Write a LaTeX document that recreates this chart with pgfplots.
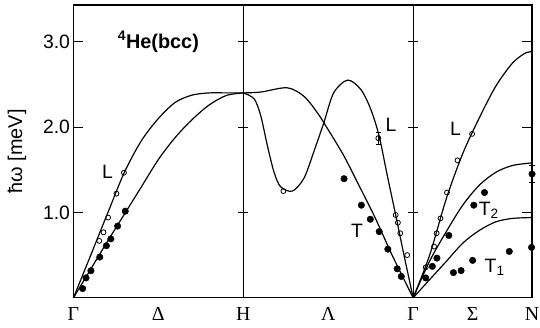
\documentclass[border=0pt]{standalone}
\usepackage{fontspec}
\setmainfont{Liberation Sans}
\newfontfamily\greekfont{Liberation Serif}
\usepackage{pgfplots}
\pgfplotsset{compat=1.18}

\begin{document}
\begin{tikzpicture}
\begin{axis}[
    scale only axis,
    width=462pt, height=295pt,
    xmin=0, xmax=2.7,
    ymin=0, ymax=3.43,
    axis line style={line width=1.2pt},
    ytick={1,2,3},
    yticklabels={1.0,2.0,3.0},
    ytick pos=both, yticklabel pos=left,
    tick align=inside,
    major tick length=10pt,
    tick style={black, line width=1pt},
    xtick={0,0.5,1,1.5,2,2.35,2.7},
    xticklabels={Γ,Δ,H,Λ,Γ,Σ,N},
    x tick style={draw=none},
    xticklabel style={font=\fontsize{20}{22}\selectfont\greekfont, yshift=-6pt},
    yticklabel style={font=\fontsize{19.5}{22}\selectfont},
    /pgf/number format/assume math mode=true,
    ylabel={ħω [meV]},
    ylabel style={font=\fontsize{20}{22}\selectfont, yshift=10pt},
    clip=false,
]

% panel dividers at H and Gamma
\addplot[black, line width=1.2pt] coordinates {(1,0) (1,3.43)};
\addplot[black, line width=1.2pt] coordinates {(2,0) (2,3.43)};
% small ticks on the dividers
\addplot[black, line width=1pt] coordinates {(0.97,1) (1.03,1)};
\addplot[black, line width=1pt] coordinates {(0.97,2) (1.03,2)};
\addplot[black, line width=1pt] coordinates {(0.97,3) (1.03,3)};
\addplot[black, line width=1pt] coordinates {(1.97,1) (2.03,1)};
\addplot[black, line width=1pt] coordinates {(1.97,2) (2.03,2)};
\addplot[black, line width=1pt] coordinates {(1.97,3) (2.03,3)};

% Gamma - H : L branch
\addplot[black, line width=1.2pt, smooth] coordinates {
 (0,0) (0.1,0.49) (0.2,0.985) (0.3,1.47) (0.4,1.84) (0.5,2.1)
 (0.6,2.29) (0.7,2.375) (0.8,2.4) (0.9,2.4) (1.0,2.4)};
% Gamma - H : T branch
\addplot[black, line width=1.2pt, smooth] coordinates {
 (0,0) (0.1,0.33) (0.2,0.66) (0.3,0.98) (0.4,1.3) (0.5,1.62)
 (0.6,1.88) (0.7,2.09) (0.8,2.26) (0.9,2.37) (1.0,2.4)};

% H - Gamma : L branch
\addplot[black, line width=1.2pt, smooth] coordinates {
 (1,2.4) (1.064,2.33) (1.103,2.13) (1.142,1.78) (1.181,1.47) (1.22,1.30)
 (1.289,1.25) (1.357,1.40) (1.415,1.71) (1.474,2.05) (1.532,2.40)
 (1.614,2.55) (1.692,2.44) (1.75,2.21) (1.799,1.90) (1.848,1.43)
 (1.897,0.97) (1.946,0.50) (2,0)};
% H - Gamma : T branch
\addplot[black, line width=1.2pt, smooth] coordinates {
 (1,2.4) (1.103,2.41) (1.258,2.46) (1.357,2.36) (1.435,2.17) (1.49,2.0)
 (1.59,1.67) (1.68,1.32) (1.778,0.93) (1.876,0.5) (2,0)};

% Gamma - N : L, T2, T1
\addplot[black, line width=1.2pt, smooth] coordinates {
 (2,0) (2.097,0.50) (2.195,1.16) (2.292,1.69) (2.39,2.11) (2.487,2.48)
 (2.585,2.75) (2.663,2.87) (2.7,2.88)};
\addplot[black, line width=1.2pt, smooth] coordinates {
 (2,0) (2.097,0.43) (2.195,0.775) (2.292,1.085) (2.39,1.32) (2.487,1.47)
 (2.585,1.55) (2.7,1.58)};
\addplot[black, line width=1.2pt, smooth] coordinates {
 (2,0) (2.097,0.213) (2.195,0.426) (2.292,0.64) (2.39,0.79) (2.487,0.89)
 (2.585,0.93) (2.7,0.94)};

% measured L modes (open circles)
\addplot[only marks, mark=o, mark size=2.5pt, mark options={fill=white, line width=0.8pt}]
 coordinates {
 (0.152,0.667) (0.177,0.767) (0.204,0.94) (0.253,1.22) (0.297,1.465)
 (1.236,1.25) (1.897,0.97) (1.91,0.88) (1.924,0.756) (1.965,0.50)
 (2.074,0.357) (2.123,0.60) (2.138,0.756) (2.161,0.93) (2.199,1.233)
 (2.261,1.61) (2.347,1.92)};
\addplot[only marks, mark=o, mark size=2.5pt, mark options={fill=white, line width=0.8pt},
 error bars/.cd, y dir=both, y explicit, error bar style={line width=0.8pt}]
 coordinates {(1.795,1.87) +- (0,0.07)};

% measured T modes (filled circles)
\addplot[only marks, mark=*, mark size=3.3pt] coordinates {
 (0.054,0.108) (0.074,0.233) (0.103,0.317) (0.155,0.477) (0.194,0.61)
 (0.22,0.69) (0.26,0.84) (0.305,1.015)
 (1.593,1.395) (1.695,1.085) (1.748,0.92) (1.80,0.775) (1.851,0.57)
 (1.906,0.34) (1.93,0.25)
 (2.074,0.233) (2.113,0.368) (2.14,0.465) (2.21,0.73) (2.237,0.295)
 (2.282,0.318) (2.35,0.438) (2.357,1.085) (2.42,1.233) (2.566,0.543)
 (2.697,0.59)};
\addplot[only marks, mark=*, mark size=3.3pt,
 error bars/.cd, y dir=both, y explicit, error bar style={line width=0.8pt}]
 coordinates {(2.7,1.45) +- (0,0.1)};

% labels
\node[font=\fontsize{20}{22}\selectfont\bfseries] at (axis cs:0.5,3.0) {\textsuperscript{4}He(bcc)};
\node[font=\fontsize{19.5}{22}\selectfont] at (axis cs:0.2,1.47) {L};
\node[font=\fontsize{19.5}{22}\selectfont] at (axis cs:1.87,2.03) {L};
\node[font=\fontsize{19.5}{22}\selectfont] at (axis cs:1.67,0.79) {T};
\node[font=\fontsize{19.5}{22}\selectfont] at (axis cs:2.25,1.98) {L};
\node[font=\fontsize{19.5}{22}\selectfont, anchor=west, inner sep=0pt] at (axis cs:2.385,1.02) {T\textsubscript{2}};
\node[font=\fontsize{19.5}{22}\selectfont, anchor=west, inner sep=0pt] at (axis cs:2.42,0.36) {T\textsubscript{1}};
\end{axis}
% page margins round the axis box, as in the reference
\pgfresetboundingbox
\path[use as bounding box] ([shift={(-74pt,-30pt)}]current axis.south west)
  rectangle ([shift={(8pt,5pt)}]current axis.north east);
\end{tikzpicture}
\end{document}
